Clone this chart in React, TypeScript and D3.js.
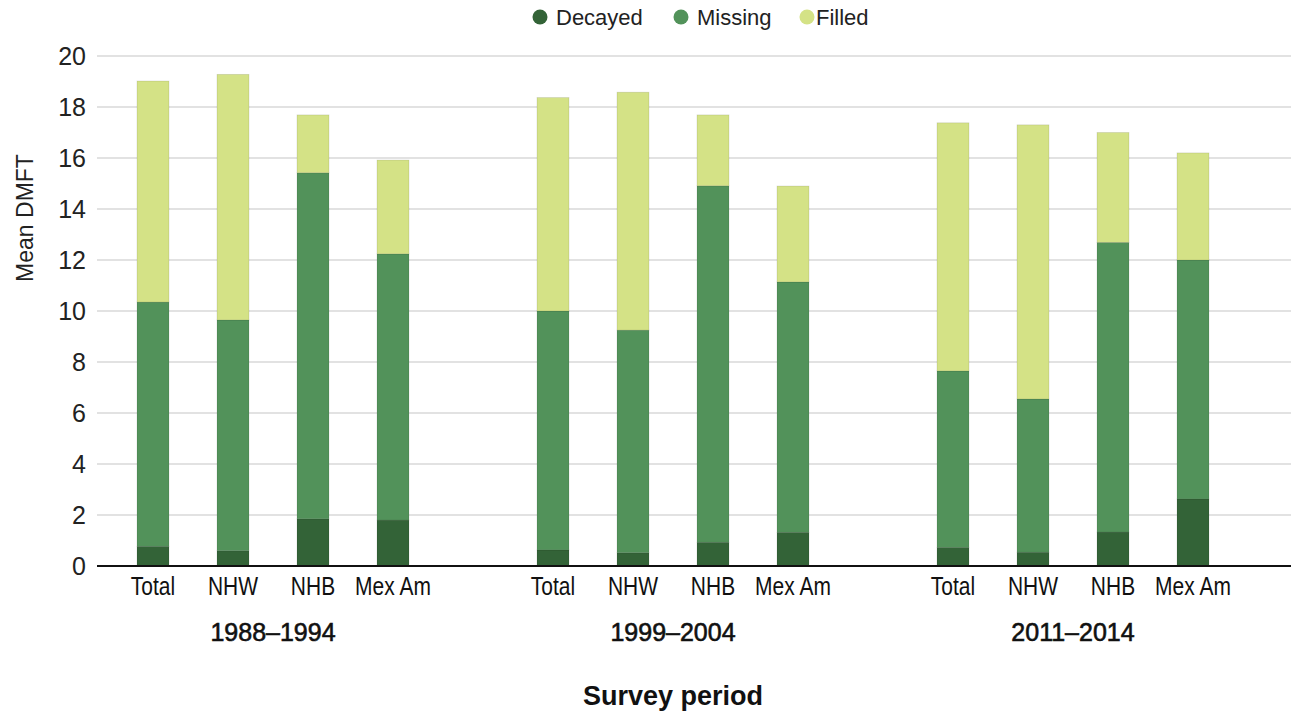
import React from "react";
import * as d3 from "d3";

const periods = ["1988–1994", "1999–2004", "2011–2014"];
const groups = ["Total", "NHW", "NHB", "Mex Am"];
const seriesNames = ["Decayed", "Missing", "Filled"];
const seriesColors = ["#336337", "#52925a", "#d4e286"];

// values per period × group, in order of groups
const decayed = [
  [0.77, 0.6, 1.85, 1.8],
  [0.63, 0.52, 0.93, 1.32],
  [0.73, 0.54, 1.33, 2.63],
];
const missing = [
  [9.58, 9.05, 13.57, 10.44],
  [9.37, 8.73, 13.98, 9.82],
  [6.92, 6.01, 11.36, 9.37],
];
const filled = [
  [8.67, 9.63, 2.27, 3.68],
  [8.37, 9.33, 2.78, 3.76],
  [9.73, 10.75, 4.31, 4.2],
];
const yTicks = [0, 2, 4, 6, 8, 10, 12, 14, 16, 18, 20];

const W = 1291;
const H = 713;
const plotLeft = 97;
const plotRight = 1291;
const yTop = 56;
const yBottom = 566;

export default function App() {
  const slots: string[] = [];
  periods.forEach((p, pi) => {
    groups.forEach((g) => slots.push(p + "|" + g));
    if (pi < periods.length - 1) slots.push("gap" + pi);
  });
  const x = d3
    .scaleBand<string>()
    .domain(slots)
    .range([113, 1233])
    .paddingInner(0.6)
    .paddingOuter(0.3);
  const y = d3.scaleLinear().domain([0, 20]).range([yBottom, yTop]);

  const rows: any[] = [];
  periods.forEach((p, pi) => {
    groups.forEach((g, gi) => {
      rows.push({
        key: p + "|" + g,
        Decayed: decayed[pi][gi],
        Missing: missing[pi][gi],
        Filled: filled[pi][gi],
      });
    });
  });
  const stack = d3.stack<any>().keys(seriesNames);
  const stacked = stack(rows);

  const font = "'Liberation Sans', Arial, Helvetica, sans-serif";

  const legendItems = [
    { cx: 540, tx: 556 },
    { cx: 681, tx: 697 },
    { cx: 807, tx: 816 },
  ];

  return (
    <svg
      width={W}
      height={H}
      style={{ position: "absolute", left: 0, top: 0, background: "#fff" }}
      fontFamily={font}
    >
      {/* gridlines */}
      {yTicks.map((t) =>
        t === 0 ? null : (
          <line
            key={t}
            x1={plotLeft}
            x2={plotRight}
            y1={y(t)}
            y2={y(t)}
            stroke="#d9d9d9"
            strokeWidth={1.5}
          />
        )
      )}
      {/* y tick labels */}
      {yTicks.map((t) => (
        <text
          key={"l" + t}
          x={86}
          y={y(t)}
          textAnchor="end"
          dominantBaseline="central"
          fontSize={25}
          fill="#222"
        >
          {t}
        </text>
      ))}
      {/* y title */}
      <text
        transform={`translate(33, 218) rotate(-90)`}
        textAnchor="middle"
        fontSize={23}
        fill="#222"
      >
        Mean DMFT
      </text>
      {/* bars */}
      {stacked.map((s, si) =>
        s.map((d: any) => (
          <rect
            key={s.key + d.data.key}
            x={x(d.data.key)}
            width={x.bandwidth()}
            y={y(d[1])}
            height={y(d[0]) - y(d[1])}
            fill={seriesColors[si]}
            stroke="rgba(0,0,0,0.12)"
            strokeWidth={0.8}
          />
        ))
      )}
      {/* zero axis */}
      <line
        x1={plotLeft}
        x2={plotRight}
        y1={y(0)}
        y2={y(0)}
        stroke="#111"
        strokeWidth={2}
      />
      {/* category labels */}
      {rows.map((r) => (
        <text
          key={"c" + r.key}
          transform={`translate(${(x(r.key) as number) + x.bandwidth() / 2}, 586) scale(0.84, 1)`}
          textAnchor="middle"
          dominantBaseline="central"
          fontSize={25}
          fill="#111"
        >
          {r.key.split("|")[1]}
        </text>
      ))}
      {/* period labels */}
      {periods.map((p) => {
        const c0 = (x(p + "|" + groups[0]) as number) + x.bandwidth() / 2;
        const c1 =
          (x(p + "|" + groups[groups.length - 1]) as number) + x.bandwidth() / 2;
        return (
          <text
            key={p}
            x={(c0 + c1) / 2}
            y={632}
            textAnchor="middle"
            dominantBaseline="central"
            fontSize={25}
            fill="#111"
            stroke="#111"
            strokeWidth={0.6}
          >
            {p}
          </text>
        );
      })}
      {/* x title */}
      <text
        x={673}
        y={696}
        textAnchor="middle"
        dominantBaseline="central"
        fontSize={27}
        fontWeight="bold"
        fill="#111"
      >
        Survey period
      </text>
      {/* legend */}
      {seriesNames.map((n, i) => (
        <g key={n}>
          <circle cx={legendItems[i].cx} cy={17} r={7.5} fill={seriesColors[i]} />
          <text
            x={legendItems[i].tx}
            y={17}
            dominantBaseline="central"
            fontSize={22}
            fill="#222"
          >
            {n}
          </text>
        </g>
      ))}
    </svg>
  );
}
